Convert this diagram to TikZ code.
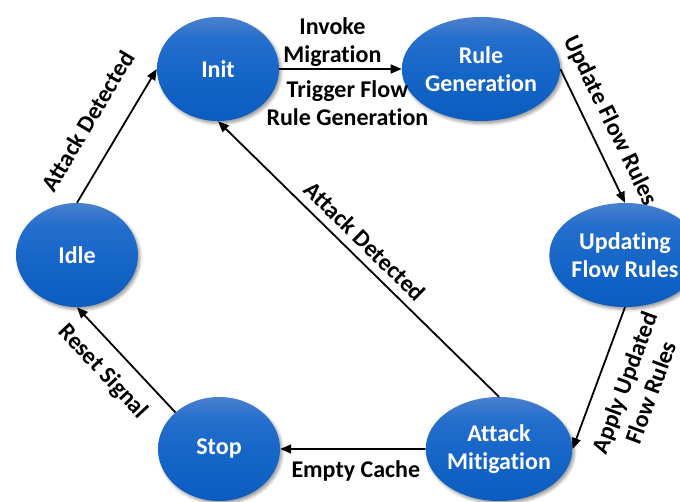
\documentclass[tikz,border=0pt]{standalone}
\usepackage{fontspec}
\setmainfont{Carlito}[Ligatures=NoCommon]
\usetikzlibrary{arrows.meta,shapes.geometric,shadows.blur}

\definecolor{stTop}{RGB}{74,128,206}
\definecolor{stUpper}{RGB}{36,110,204}
\definecolor{stMid}{RGB}{22,102,200}
\definecolor{stBot}{RGB}{10,92,190}

% blue body with a lighter band near the top
\pgfdeclareverticalshading{stshade}{100bp}{%
  color(0bp)=(stBot); color(25bp)=(stBot); color(48bp)=(stMid);
  color(64bp)=(stUpper); color(75bp)=(stTop); color(100bp)=(stTop)}

\tikzset{
  stnode/.style={ellipse, minimum width=122pt, minimum height=104pt, inner sep=0pt,
    shading=stshade, text=white,
    font=\bfseries\fontsize{24}{28}\selectfont, align=center,
    blur shadow={shadow xshift=2pt, shadow yshift=-2.5pt, shadow blur radius=3pt, shadow opacity=40}},
  flow/.style={draw=black, line width=1.8pt, -{Triangle[length=11pt,width=9pt]}},
  lbl/.style={font=\bfseries\fontsize{24}{28}\selectfont, text=black, inner sep=0pt, align=center},
}

\begin{document}
\begin{tikzpicture}[x=1pt, y=-1pt]
  \useasboundingbox (0,0) rectangle (680,502);

  % states
  \node[stnode] (init) at (218,69) {Init};
  \node[stnode] (rule) at (481,69) {Rule\\Generation};
  \node[stnode] (upd)  at (625,255) {Updating\\Flow Rules};
  \node[stnode] (att)  at (499,449) {Attack\\Mitigation};
  \node[stnode] (stop) at (219,449) {Stop};
  \node[stnode] (idle) at (77,255) {Idle};

  % transitions
  \draw[flow] (init.east) --
    node[lbl, above=2pt, xshift=-8pt] {Invoke\\Migration}
    node[lbl, below=11pt, xshift=7pt] {Trigger Flow\\Rule Generation}
    (rule.west);
  \draw[flow] (rule.east) --
    node[lbl, pos=0.46, sloped, above=11pt] {Update Flow Rules} (upd.north);
  \draw[flow] (upd.south) --
    node[lbl, pos=0.47, sloped, below=16pt] {Apply Updated\\Flow Rules} (att.east);
  \draw[flow] (att.north) --
    node[lbl, pos=0.52, sloped, above=8pt] {Attack Detected} (init.south);
  \draw[flow] (att.west) --
    node[lbl, below=11pt, xshift=3pt] {Empty Cache} (stop.east);
  \draw[flow] (stop.140) --
    node[lbl, pos=0.55, sloped, below=14pt] {Reset Signal} (idle.south);
  \draw[flow] (idle.north) --
    node[lbl, pos=0.485, sloped, above=23pt] {Attack Detected} (init.west);
\end{tikzpicture}
\end{document}
